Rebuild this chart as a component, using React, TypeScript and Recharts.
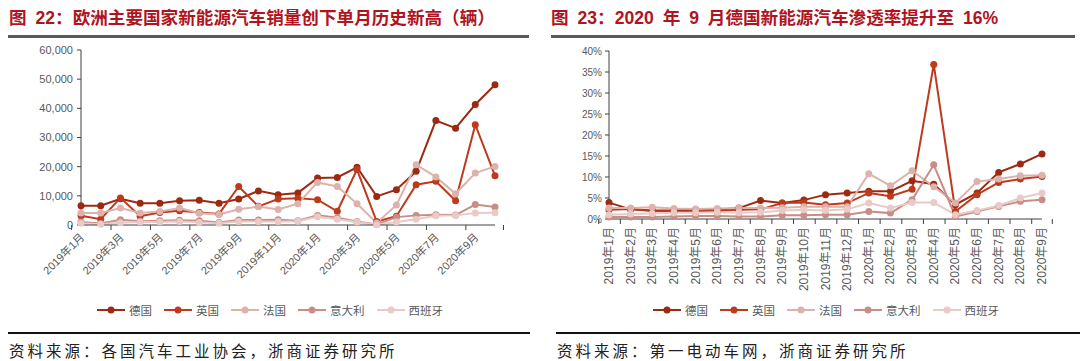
import { LineChart, Line, XAxis, YAxis, Legend } from "recharts";

// 图22: 欧洲主要国家新能源汽车月销量（辆）
const salesMonths = [
  "2019年1月", "2019年2月", "2019年3月", "2019年4月", "2019年5月", "2019年6月",
  "2019年7月", "2019年8月", "2019年9月", "2019年10月", "2019年11月", "2019年12月",
  "2020年1月", "2020年2月", "2020年3月", "2020年4月", "2020年5月", "2020年6月",
  "2020年7月", "2020年8月", "2020年9月", "2020年10月",
];
const salesDE = [6600, 6600, 9000, 7500, 7500, 8300, 8500, 7500, 8900, 11700, 10400, 11000, 16100, 16300, 19800, 9800, 12100, 18400, 35800, 33200, 41300, 48100];
const salesUK = [3200, 2000, 9300, 3000, 4300, 4900, 4300, 3800, 13200, 6400, 8900, 9200, 8700, 4700, 19000, 1200, 3000, 13800, 15000, 8300, 34400, 16900];
const salesFR = [4100, 4100, 5800, 4100, 4600, 5800, 4000, 3600, 5400, 6300, 5300, 7300, 14600, 13200, 7300, 700, 6900, 20700, 16500, 10700, 17800, 20100];
const salesIT = [1000, 500, 1800, 1300, 1500, 1600, 1500, 900, 1700, 1700, 1800, 1500, 3300, 2500, 1200, 200, 2700, 3300, 3500, 3400, 7000, 6200];
const salesES = [600, 300, 800, 1000, 1000, 1200, 900, 600, 1200, 1200, 1200, 1300, 2800, 2000, 1000, 100, 1000, 2000, 3200, 3300, 4100, 4200];
const salesTicks = [0, 10000, 20000, 30000, 40000, 50000, 60000];

// 图23: 新能源汽车渗透率（%）
const shareMonths = [
  "2019年1月", "2019年2月", "2019年3月", "2019年4月", "2019年5月", "2019年6月",
  "2019年7月", "2019年8月", "2019年9月", "2019年10月", "2019年11月", "2019年12月",
  "2020年1月", "2020年2月", "2020年3月", "2020年4月", "2020年5月", "2020年6月",
  "2020年7月", "2020年8月", "2020年9月",
];
const shareDE = [3.9, 2.3, 2.0, 2.0, 2.2, 2.2, 2.6, 4.4, 3.8, 4.5, 5.8, 6.2, 6.6, 6.6, 9.1, 8.3, 3.4, 6.2, 11.1, 13.1, 15.5];
const shareUK = [2.2, 2.4, 1.9, 1.8, 1.8, 1.9, 2.2, 2.3, 3.8, 3.9, 3.4, 3.8, 6.2, 5.4, 7.1, 36.8, 1.8, 5.8, 8.7, 9.5, 10.1];
const shareFR = [2.6, 2.6, 2.8, 2.5, 2.4, 2.5, 2.6, 2.6, 2.7, 2.9, 2.9, 2.9, 10.8, 7.9, 11.5, 7.7, 3.8, 8.9, 9.5, 10.3, 10.4];
const shareIT = [0.5, 0.5, 0.5, 0.6, 0.7, 0.7, 0.6, 0.6, 0.9, 0.9, 1.0, 1.0, 1.8, 1.4, 4.6, 12.9, 0.6, 1.8, 3.0, 4.2, 4.6];
const shareES = [1.0, 1.2, 1.3, 1.5, 1.5, 1.6, 1.5, 1.6, 2.0, 2.2, 2.0, 2.3, 3.8, 2.6, 3.9, 3.9, 1.0, 2.0, 3.2, 5.0, 6.2];
const shareTicks = [0, 5, 10, 15, 20, 25, 30, 35, 40];

const countries = ["德国", "英国", "法国", "意大利", "西班牙"];
const colors = ["#9C2A10", "#BE3A1D", "#DDB2AD", "#C98D88", "#E9CAC6"];

const salesData = salesMonths.map((m, i) => ({
  month: m, 德国: salesDE[i], 英国: salesUK[i], 法国: salesFR[i], 意大利: salesIT[i], 西班牙: salesES[i],
}));
const shareData = shareMonths.map((m, i) => ({
  month: m, 德国: shareDE[i], 英国: shareUK[i], 法国: shareFR[i], 意大利: shareIT[i], 西班牙: shareES[i],
}));

const SANS = '"Liberation Sans", Arial, "Noto Sans CJK SC", sans-serif';
const CJK = '"Noto Sans CJK SC", sans-serif';
const AXIS = "#404040";
const LABEL = "#595959";

// chart geometry (plot area inside each 540px wide chart)
const L_LEFT = 81, L_RIGHT = 45, L_TOP = 50, L_AXIS_Y = 225;
const R_LEFT = 69, R_RIGHT = 38, R_TOP = 51, R_AXIS_Y = 219;
const bandL = (540 - L_LEFT - L_RIGHT) / salesMonths.length;
const bandR = (540 - R_LEFT - R_RIGHT) / shareMonths.length;

const SalesTick = (props: any) => {
  const { x, y, payload } = props;
  const last = payload.value === salesMonths[salesMonths.length - 2];
  return (
    <g>
      <line x1={x - bandL / 2} x2={x - bandL / 2} y1={L_AXIS_Y} y2={L_AXIS_Y + 5} stroke={AXIS} />
      {last && <line x1={x + bandL * 1.5} x2={x + bandL * 1.5} y1={L_AXIS_Y} y2={L_AXIS_Y + 5} stroke={AXIS} />}
      <text x={x + 4} y={y + 7} transform={`rotate(-45 ${x + 4} ${y + 7})`} textAnchor="end"
        fontSize={11} fill={LABEL} fontFamily={SANS}>{payload.value}</text>
    </g>
  );
};

const ShareTick = (props: any) => {
  const { x, y, payload } = props;
  const last = payload.value === shareMonths[shareMonths.length - 1];
  return (
    <g>
      <line x1={x - bandR / 2} x2={x - bandR / 2} y1={R_AXIS_Y} y2={R_AXIS_Y + 5} stroke={AXIS} />
      {last && <line x1={x + bandR / 2} x2={x + bandR / 2} y1={R_AXIS_Y} y2={R_AXIS_Y + 5} stroke={AXIS} />}
      <text x={x + 4} y={y + 2} transform={`rotate(-90 ${x + 4} ${y + 2})`} textAnchor="end"
        fontSize={12} fill={LABEL} fontFamily={SANS}>{payload.value}</text>
    </g>
  );
};

const LegendRow = () => (
  <div style={{ display: "flex", justifyContent: "center", gap: 12, fontSize: 11.5, color: LABEL, fontFamily: CJK }}>
    {countries.map((c, i) => (
      <span key={c} style={{ display: "flex", alignItems: "center" }}>
        <svg width={28} height={10}>
          <line x1={0} x2={28} y1={5} y2={5} stroke={colors[i]} strokeWidth={2} />
          <circle cx={14} cy={5} r={3.5} fill={colors[i]} />
        </svg>
        <span style={{ marginLeft: 4 }}>{c}</span>
      </span>
    ))}
  </div>
);

const lines = () =>
  countries.map((c, i) => (
    <Line key={c} type="linear" dataKey={c} name={c} stroke={colors[i]} strokeWidth={2}
      dot={{ r: 3.5, fill: colors[i], stroke: colors[i], strokeWidth: 0 }}
      activeDot={false} isAnimationActive={false} />
  ));

const Title = ({ left, text }: { left: number; text: string }) => (
  <div style={{
    position: "absolute", left, top: 4, fontFamily: '"Liberation Sans", "Noto Sans CJK SC", sans-serif',
    fontWeight: 700, fontSize: 17.6, color: "#B0141E", whiteSpace: "pre", wordSpacing: 4,
  }}>
    {text}
  </div>
);

const footStyle = { position: "absolute" as const, top: 339, fontFamily: CJK, fontSize: 15.5, color: "#222", letterSpacing: 3 };

export default function App() {
  return (
    <div style={{ position: "absolute", left: 0, top: 0, width: 1080, height: 361, background: "#fff", overflow: "hidden" }}>
      <Title left={9} text="图 22：欧洲主要国家新能源汽车销量创下单月历史新高（辆）" />
      <Title left={551} text="图 23：2020 年 9 月德国新能源汽车渗透率提升至 16%" />
      <div style={{ position: "absolute", left: 8, top: 35, width: 521, height: 3, background: "#595959" }} />
      <div style={{ position: "absolute", left: 551, top: 35, width: 524, height: 3, background: "#595959" }} />

      <div style={{ position: "absolute", left: 0, top: 0 }}>
        <LineChart width={540} height={330} data={salesData}
          margin={{ top: L_TOP, right: L_RIGHT, bottom: 12, left: 0 }}>
          <XAxis dataKey="month" interval={1} tickLine={false} tickSize={4} tickMargin={2}
            axisLine={{ stroke: AXIS }} height={77} tick={<SalesTick />} />
          <YAxis domain={[0, 60000]} ticks={salesTicks} width={L_LEFT} tickSize={4} tickMargin={4}
            axisLine={{ stroke: AXIS }} tickLine={{ stroke: AXIS }}
            tickFormatter={(v: number) => v.toLocaleString("en-US")}
            tick={{ fontSize: 11, fill: LABEL, fontFamily: SANS }} />
          <Legend verticalAlign="bottom" content={<LegendRow />} wrapperStyle={{ left: 0, width: 540 }} />
          {lines()}
        </LineChart>
      </div>

      <div style={{ position: "absolute", left: 540, top: 0 }}>
        <LineChart width={540} height={330} data={shareData}
          margin={{ top: R_TOP, right: R_RIGHT, bottom: 12, left: 0 }}>
          <XAxis dataKey="month" interval={0} tickLine={false} tickSize={4} tickMargin={2}
            axisLine={{ stroke: AXIS }} height={83} tick={<ShareTick />} />
          <YAxis domain={[0, 40]} ticks={shareTicks} width={R_LEFT} tickSize={4} tickMargin={3}
            axisLine={{ stroke: AXIS }} tickLine={{ stroke: AXIS }}
            tickFormatter={(v: number) => `${v}%`}
            tick={{ fontSize: 10, fill: LABEL, fontFamily: SANS }} />
          <Legend verticalAlign="bottom" content={<LegendRow />} wrapperStyle={{ left: 16, width: 540 }} />
          {lines()}
        </LineChart>
      </div>

      <div style={{ position: "absolute", left: 8, top: 332, width: 522, height: 1.5, background: "#111" }} />
      <div style={{ position: "absolute", left: 556, top: 332, width: 524, height: 1.5, background: "#111" }} />
      <div style={{ ...footStyle, left: 9 }}>资料来源：各国汽车工业协会，浙商证券研究所</div>
      <div style={{ ...footStyle, left: 557 }}>资料来源：第一电动车网，浙商证券研究所</div>
    </div>
  );
}
